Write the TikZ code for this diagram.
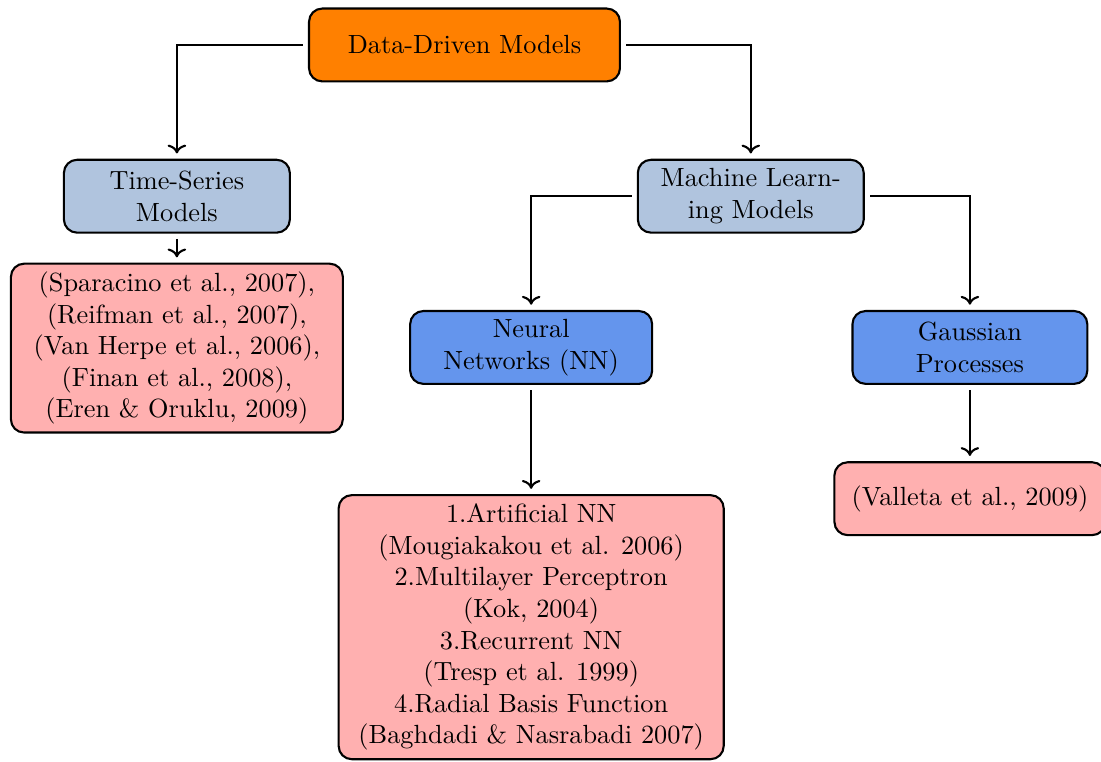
\documentclass[tikz,border=0pt]{standalone}
\usepackage{tikz}
\usetikzlibrary{arrows.meta, positioning}
\definecolor{rootorange}{RGB}{255,128,0}
\definecolor{catblue}{RGB}{176,196,222}
\definecolor{methblue}{RGB}{100,149,237}
\definecolor{refpink}{RGB}{255,176,176}

\begin{document}
\begin{tikzpicture}[thick,
    box/.style={draw, rounded corners=5pt, align=center, minimum height=27.7pt, inner sep=3pt},
    rootbox/.style={box, fill=rootorange, minimum width=118.2pt},
    catbox/.style={box, fill=catblue, minimum width=85.9pt},
    methbox/.style={box, fill=methblue},
    refbox/.style={box, fill=refpink},
    link/.style={->, shorten <=2pt, shorten >=2pt}]
  \useasboundingbox (0,0) rectangle (418.6pt,-289.4pt);

  \node[rootbox] (root) at (176.6pt,-17.1pt) {Data-Driven Models};
  \node[catbox, below left=29pt and 6.5pt of root] (ts) {Time-Series\\Models};
  \node[catbox, below right=29pt and 6pt of root] (ml) {Machine Learn-\\ing Models};

  \node[refbox, below=11pt of ts, minimum width=126.2pt, minimum height=64.2pt] (tsref)
    {(Sparacino et al., 2007),\\(Reifman et al., 2007),\\(Van Herpe et al., 2006),\\(Finan et al., 2008),\\(Eren \& Oruklu, 2009)};

  \node[methbox, below=29pt of ml, xshift=-83.5pt, minimum width=92pt] (nn) {Neural\\Networks (NN)};
  \node[methbox, below=29pt of ml, xshift=83.3pt, minimum width=89.3pt] (gp) {Gaussian\\Processes};

  \node[refbox, below=41.5pt of nn, minimum width=146.4pt, minimum height=100.4pt] (nnref)
    {1.Artificial NN\\(Mougiakakou et al. 2006)\\2.Multilayer Perceptron\\(Kok, 2004)\\3.Recurrent NN\\(Tresp et al. 1999)\\4.Radial Basis Function\\(Baghdadi \& Nasrabadi 2007)};
  \node[refbox, below=29pt of gp, minimum width=103pt] (gpref) {(Valleta et al., 2009)};

  \draw[link] (root.west) -| (ts.north);
  \draw[link] (root.east) -| (ml.north);
  \draw[link] (ts) -- (tsref);
  \draw[link] (ml.west) -| (nn.north);
  \draw[link] (ml.east) -| (gp.north);
  \draw[link] (nn) -- (nnref);
  \draw[link] (gp) -- (gpref);
\end{tikzpicture}
\end{document}
